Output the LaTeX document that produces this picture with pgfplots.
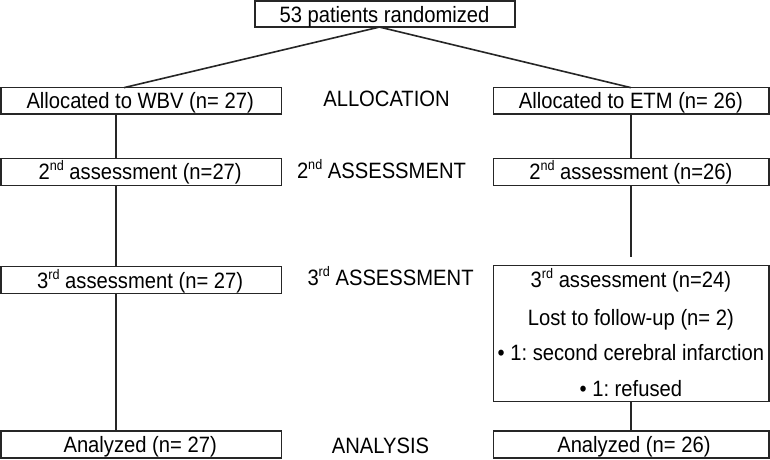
\documentclass[border=0pt]{standalone}
\usepackage{pgfplots}
\pgfplotsset{compat=1.18}
\usepackage{fontspec}
\setmainfont{Liberation Sans}
\frenchspacing
\newcommand{\supx}[1]{\raisebox{0.4em}{\fontsize{12.5pt}{13pt}\selectfont #1}}
\newcommand{\T}[1]{\scalebox{1}[1.1]{#1}}
\tikzset{txt/.style={anchor=base, inner sep=0pt, font=\fontsize{20pt}{24pt}\selectfont\frenchspacing}}
\pgfplotsset{ln/.style={black!85, solid, line width=1.6pt, no markers, line join=miter}}
\begin{document}
\begin{tikzpicture}
\begin{axis}[
  width=770pt, height=462pt, scale only axis,
  xmin=0, xmax=770, ymin=0, ymax=462, y dir=reverse,
  axis lines=none, clip=false,
]
% boxes
\addplot[ln] coordinates {(260,6) (517,6) (517,32) (260,32) (260,6) (517,6)};
\addplot[ln] coordinates {(8,92) (286,92) (286,118) (8,118) (8,92) (286,92)};
\addplot[ln] coordinates {(496,92) (769,92) (769,118) (496,118) (496,92) (769,92)};
\addplot[ln] coordinates {(8,162) (286,162) (286,189) (8,189) (8,162) (286,162)};
\addplot[ln] coordinates {(496,162) (769,162) (769,189) (496,189) (496,162) (769,162)};
\addplot[ln] coordinates {(8,269) (286,269) (286,296) (8,296) (8,269) (286,269)};
\addplot[ln] coordinates {(496,268) (769,268) (769,403) (496,403) (496,268) (769,268)};
\addplot[ln] coordinates {(8,432) (286,432) (286,459) (8,459) (8,432) (286,432)};
\addplot[ln] coordinates {(496,432) (769,432) (769,459) (496,459) (496,432) (769,432)};
% connectors
\addplot[ln] coordinates {(383,32) (130,92)};
\addplot[ln] coordinates {(383,32) (632,92)};
\addplot[ln] coordinates {(122,118) (122,162)};
\addplot[ln] coordinates {(632,118) (632,162)};
\addplot[ln] coordinates {(122,189) (122,269)};
\addplot[ln] coordinates {(632,189) (632,260)};
\addplot[ln] coordinates {(122,296) (122,432)};
\addplot[ln] coordinates {(632,403) (632,432)};
% texts
\node[txt] at (axis cs:388,27) {\T{53 patients randomized}};
\node[txt] at (axis cs:146,113) {\T{Allocated to WBV (n= 27)}};
\node[txt] at (axis cs:632,113) {\T{Allocated to ETM (n= 26)}};
\node[txt] at (axis cs:390,111) {\T{ALLOCATION}};
\node[txt] at (axis cs:146,183) {\T{2\supx{nd} assessment (n=27)}};
\node[txt] at (axis cs:632,183) {\T{2\supx{nd} assessment (n=26)}};
\node[txt] at (axis cs:385,182) {\T{2\supx{nd} ASSESSMENT}};
\node[txt] at (axis cs:146,291) {\T{3\supx{rd} assessment (n= 27)}};
\node[txt] at (axis cs:394,288) {\T{3\supx{rd} ASSESSMENT}};
\node[txt] at (axis cs:632,290) {\T{3\supx{rd} assessment (n=24)}};
\node[txt] at (axis cs:632,328) {\T{Lost to follow-up (n= 2)}};
\node[txt] at (axis cs:632,362) {\T{\textbullet\ 1: second cerebral infarction}};
\node[txt] at (axis cs:632,398) {\T{\textbullet\ 1: refused}};
\node[txt] at (axis cs:146,453) {\T{Analyzed (n= 27)}};
\node[txt] at (axis cs:635,453) {\T{Analyzed (n= 26)}};
\node[txt] at (axis cs:384,454) {\T{ANALYSIS}};
\end{axis}
\end{tikzpicture}
\end{document}
